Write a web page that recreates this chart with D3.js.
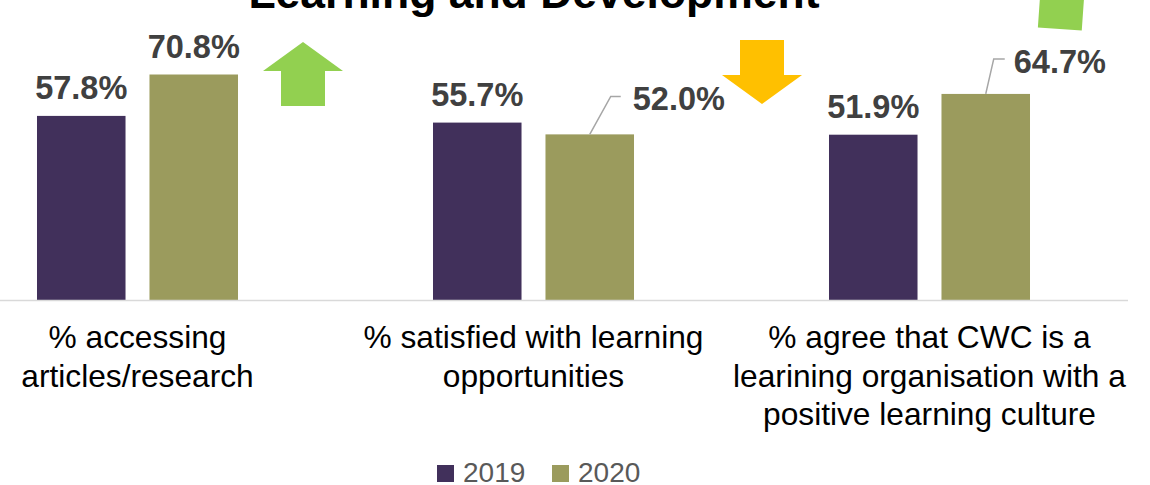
<!DOCTYPE html>
<html>
<head>
<meta charset="utf-8">
<script src="https://cdn.jsdelivr.net/npm/d3@7"></script>
<style>
  html, body { margin: 0; padding: 0; background: #ffffff; }
  svg { display: block; }
</style>
</head>
<body>
<svg id="chart" width="1150" height="485"></svg>
<script>
// Survey results: learning and development, 2019 vs 2020
const categories = [
  ["% accessing", "articles/research"],
  ["% satisfied with learning", "opportunities"],
  ["% agree that CWC is a", "learining organisation with a", "positive learning culture"]
];
const seriesNames = ["2019", "2020"];
const values2019 = [57.8, 55.7, 51.9];
const values2020 = [70.8, 52.0, 64.7];
const trends = ["up", "down", "up"];

const colors = { "2019": "#41305B", "2020": "#9B9B5D" };

const svg = d3.select("#chart");

const catKeys = categories.map((c, i) => "c" + i);

// Group scale and series scale within each group
const x0 = d3.scaleBand()
  .domain(catKeys)
  .range([-60.5, 1127.5])
  .paddingInner(0.4924)
  .paddingOuter(0.2462);

const x1 = d3.scaleBand()
  .domain(seriesNames)
  .range([0, x0.bandwidth()])
  .paddingInner(0.213);

const y = d3.scaleLinear().domain([0, 100]).range([300, -18.5]);

// Title (partly above the visible area)
svg.append("text")
  .attr("x", 534)
  .attr("y", 8)
  .attr("text-anchor", "middle")
  .attr("font-family", "Liberation Sans, Arial, sans-serif")
  .attr("font-weight", "bold")
  .attr("font-size", 44.5)
  .attr("fill", "#000000")
  .text("Learning and Development");

// Bars
const rows = catKeys.map((k, i) => ({
  key: k,
  vals: [
    { series: "2019", value: values2019[i] },
    { series: "2020", value: values2020[i] }
  ]
}));

const groups = svg.append("g").selectAll("g")
  .data(rows)
  .join("g")
  .attr("transform", d => `translate(${x0(d.key)},0)`);

groups.selectAll("rect")
  .data(d => d.vals)
  .join("rect")
  .attr("x", d => x1(d.series))
  .attr("width", x1.bandwidth())
  .attr("y", d => y(d.value))
  .attr("height", d => y(0) - y(d.value))
  .attr("fill", d => colors[d.series]);

// Baseline axis
const xAxis = d3.axisBottom(x0).tickSize(0).tickFormat("");
const axisG = svg.append("g")
  .attr("transform", `translate(0,${y(0)})`)
  .call(xAxis);
axisG.select(".domain")
  .attr("stroke", "#d9d9d9")
  .attr("stroke-width", 1.5);

// Category labels (multi-line)
const catLabels = svg.append("g")
  .attr("font-family", "Liberation Sans, Arial, sans-serif")
  .attr("font-size", 31.7)
  .attr("fill", "#000000")
  .attr("text-anchor", "middle");

categories.forEach((lines, i) => {
  const cx = x0(catKeys[i]) + x0.bandwidth() / 2;
  const t = catLabels.append("text").attr("x", cx).attr("y", 348);
  lines.forEach((ln, j) => {
    t.append("tspan")
      .attr("x", cx)
      .attr("dy", j === 0 ? 0 : 38.5)
      .text(ln);
  });
});

// Data labels; some are pulled aside with a leader line
const labelOffsets = {
  "c1-2020": { dx: 43, dy: -24, elbowDx: 21, elbowDy: -38, lineEnd: 10 },
  "c2-2020": { dx: 28, dy: -21, elbowDx: 8, elbowDy: -35, lineEnd: 11 }
};

const labelsG = svg.append("g")
  .attr("font-family", "Liberation Sans, Arial, sans-serif")
  .attr("font-weight", "bold")
  .attr("font-size", 32.5)
  .attr("fill", "#404040");

rows.forEach(r => {
  r.vals.forEach(v => {
    const bx = x0(r.key) + x1(v.series) + x1.bandwidth() / 2;
    const by = y(v.value);
    const label = v.value.toFixed(1) + "%";
    const off = labelOffsets[r.key + "-" + v.series];
    if (off) {
      const ex = bx + off.elbowDx, ey = by + off.elbowDy;
      svg.append("polyline")
        .attr("points", `${bx},${by} ${ex},${ey} ${ex + off.lineEnd},${ey}`)
        .attr("fill", "none")
        .attr("stroke", "#a6a6a6")
        .attr("stroke-width", 1.5);
      labelsG.append("text")
        .attr("x", bx + off.dx)
        .attr("y", by + off.dy)
        .attr("text-anchor", "start")
        .text(label);
    } else {
      labelsG.append("text")
        .attr("x", bx)
        .attr("y", by - 17)
        .attr("text-anchor", "middle")
        .text(label);
    }
  });
});

// Trend arrows
function arrowPath(dir) {
  // up arrow, local coords: tip at (0,0), head 29 tall, shaft 35 long
  const pts = [[0, 0], [40, 29], [22, 29], [22, 64], [-22, 64], [-22, 29], [-40, 29]];
  const p = dir === "up" ? pts : pts.map(([a, b]) => [a, 64 - b]);
  return "M" + p.map(q => q.join(",")).join("L") + "Z";
}

const arrowPlacement = [
  { cx: 303, top: 42, rotate: 0, color: "#92D050" },
  { cx: 762, top: 40, rotate: 0, color: "#FFC000" },
  { cx: 1061, top: -35, rotate: 4, color: "#92D050" }
];

trends.forEach((dir, i) => {
  const a = arrowPlacement[i];
  svg.append("path")
    .attr("d", arrowPath(dir))
    .attr("fill", a.color)
    .attr("transform", `translate(${a.cx},${a.top}) rotate(${a.rotate},0,47)`);
});

// Legend
const legend = svg.append("g")
  .attr("font-family", "Liberation Sans, Arial, sans-serif")
  .attr("font-size", 28)
  .attr("fill", "#595959");

const legendX = [437, 552];
seriesNames.forEach((s, i) => {
  legend.append("rect")
    .attr("x", legendX[i])
    .attr("y", 465)
    .attr("width", 17)
    .attr("height", 17)
    .attr("fill", colors[s]);
  legend.append("text")
    .attr("x", legendX[i] + 26)
    .attr("y", 482)
    .text(s);
});
</script>
</body>
</html>
